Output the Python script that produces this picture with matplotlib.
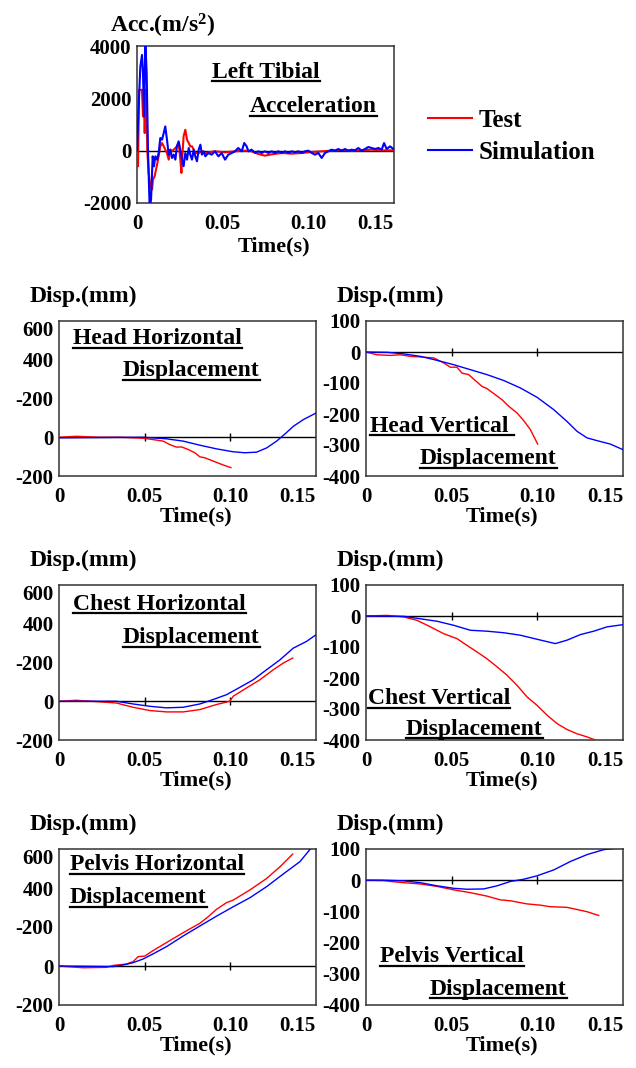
import matplotlib
matplotlib.use("Agg")
import matplotlib.pyplot as plt
from matplotlib.lines import Line2D

plt.rcParams['font.family'] = ['Liberation Serif', 'DejaVu Serif']
plt.rcParams['font.weight'] = 'bold'
plt.rcParams['mathtext.fontset'] = 'custom'
plt.rcParams['mathtext.rm'] = 'Liberation Serif:bold'
plt.rcParams['mathtext.bf'] = 'Liberation Serif:bold'
plt.rcParams['mathtext.it'] = 'Liberation Serif:bold'

# ---------------- data ----------------
# Left tibial acceleration (m/s^2)
acc_test_t = [0, 0.0006, 0.0012, 0.0029, 0.0035, 0.0039, 0.0045, 0.0051, 0.0056, 0.0060,
              0.0068, 0.0078, 0.0088, 0.0093, 0.0103, 0.0111, 0.0119, 0.0126, 0.0136, 0.0146,
              0.0156, 0.0165, 0.0175, 0.0185, 0.0195, 0.0204, 0.0214, 0.0224, 0.0233, 0.0243,
              0.0253, 0.0259, 0.0267, 0.0272, 0.0282, 0.0292, 0.0302, 0.0311, 0.0321, 0.0331,
              0.0340, 0.0360, 0.0379, 0.0399, 0.0455, 0.0514, 0.0572, 0.0631, 0.0669, 0.0708,
              0.0747, 0.0786, 0.0845, 0.0903, 0.0961, 0.1020, 0.1078, 0.1136, 0.1195, 0.1253,
              0.1311, 0.1370, 0.1428, 0.1496]
acc_test_v = [0, -597, 2324, 2324, 1308, 2324, 673, 2324, 2324, 0,
              -851, -1359, -1486, -1105, -978, -724, -470, -216, 165, 292,
              165, 38, -89, -343, 38, -25, 38, 102, 165, 292,
              -343, -851, 38, 546, 800, 419, 292, 165, 165, 38,
              -89, -89, -25, -89, -25, -64, -25, 0, -25, -127,
              -190, -140, -89, -114, -89, -51, -25, 0, 13, 0,
              13, 38, 13, 13]
acc_sim_t = [0, 0.00097, 0.00195, 0.00292, 0.0035, 0.0041, 0.00486, 0.00564, 0.00642, 0.0074,
             0.0082, 0.00915, 0.0099, 0.0107, 0.0117, 0.01265, 0.0136, 0.0146, 0.0156, 0.0165,
             0.0175, 0.0185, 0.0195, 0.0204, 0.0214, 0.0224, 0.0233, 0.0243, 0.0253, 0.0263,
             0.0272, 0.0282, 0.0292, 0.0302, 0.0311, 0.0321, 0.0331, 0.0340, 0.0350, 0.0360,
             0.0370, 0.0379, 0.0389, 0.0399, 0.0416, 0.0436, 0.0455, 0.0475, 0.0494, 0.0514,
             0.0533, 0.0553, 0.0572, 0.0591, 0.0611, 0.0626, 0.0640, 0.0650, 0.0669, 0.0689,
             0.0708, 0.0728, 0.0747, 0.0767, 0.0786, 0.0806, 0.0825, 0.0845, 0.0864, 0.0883,
             0.0903, 0.0922, 0.0942, 0.0961, 0.0981, 0.1000, 0.1020, 0.1039, 0.1058, 0.1078,
             0.1097, 0.1117, 0.1136, 0.1156, 0.1175, 0.1195, 0.1214, 0.1233, 0.1253, 0.1272,
             0.1292, 0.1311, 0.1331, 0.1350, 0.1370, 0.1389, 0.1409, 0.1428, 0.1442, 0.1457,
             0.1477, 0.1496]
acc_sim_v = [0, 1690, 3213, 3658, 2959, 1308, 4200, 2959, 0, -2200,
             -1867, -216, -597, -216, -343, -89, 483, 419, 673, 927,
             419, -152, 38, -279, -152, -343, 165, 356, 38, -343,
             -597, -89, -343, 101, -152, -343, 38, -216, -406, 38,
             229, -152, -25, -216, -89, -152, -25, -216, -89, -343,
             -152, -89, -25, 102, -25, 292, 165, -25, 38, -89,
             -25, -89, -25, -89, -25, -89, -25, -89, -25, -89,
             -25, -64, -25, -89, -25, 0, -89, -152, -89, -279,
             -89, -25, 38, 0, 64, 0, 64, 0, 38, 13,
             102, 0, 64, 140, 102, 64, 102, 38, 292, 64,
             165, 64]

# Head horizontal displacement (mm)
hh_test_t = [0, 0.0101, 0.0238, 0.0355, 0.049, 0.0549, 0.0608, 0.0647, 0.0686, 0.0715,
             0.0754, 0.0793, 0.0822, 0.0851, 0.090, 0.0949, 0.1003]
hh_test_v = [0, 5, 0, 0, -5, -12, -20, -38, -51, -50,
             -63, -80, -101, -106, -123, -140, -157]
hh_sim_t = [0, 0.049, 0.0627, 0.0725, 0.0822, 0.092, 0.1017, 0.1085, 0.1153, 0.1212,
            0.127, 0.1319, 0.1367, 0.1426, 0.150]
hh_sim_v = [-3, 0, -8, -20, -41, -60, -75, -80, -77, -55,
            -20, 17, 56, 91, 125]

# Head vertical displacement (mm)
hv_test_t = [0, 0.0064, 0.0142, 0.020, 0.0259, 0.0317, 0.0395, 0.0453, 0.0492, 0.0531,
             0.056, 0.0599, 0.0638, 0.0677, 0.0706, 0.0755, 0.0794, 0.0833, 0.0882, 0.092,
             0.0959, 0.1002]
hv_test_v = [0, -9, -11, -9, -14, -16, -19, -35, -49, -49,
             -68, -73, -92, -111, -118, -138, -154, -175, -197, -221,
             -250, -297]
hv_sim_t = [0, 0.0123, 0.022, 0.0317, 0.0415, 0.0512, 0.0609, 0.0706, 0.0804, 0.0901,
            0.0998, 0.1096, 0.1173, 0.1232, 0.129, 0.1349, 0.1426, 0.150]
hv_sim_v = [0, -1, -6, -14, -27, -41, -57, -73, -92, -116,
            -146, -186, -224, -256, -277, -286, -297, -315]

# Chest horizontal displacement (mm)
ch_test_t = [0, 0.0101, 0.0238, 0.0335, 0.0432, 0.053, 0.0627, 0.0725, 0.0822, 0.0919,
             0.0997, 0.1017, 0.1095, 0.1173, 0.1251, 0.1309, 0.1364]
ch_test_v = [0, 5, -3, -9, -31, -48, -55, -55, -43, -17,
             0, 26, 69, 111, 163, 197, 223]
ch_sim_t = [0, 0.0335, 0.0432, 0.053, 0.0627, 0.0725, 0.0822, 0.090, 0.0978, 0.1056,
            0.1134, 0.1212, 0.129, 0.1367, 0.1445, 0.150]
ch_sim_v = [0, 0, -14, -26, -34, -31, -14, 9, 34, 72,
            111, 163, 214, 274, 309, 343]

# Chest vertical displacement (mm)
cv_test_t = [0, 0.0123, 0.022, 0.0298, 0.0376, 0.0453, 0.0531, 0.059, 0.0648, 0.0706,
             0.0765, 0.0823, 0.0882, 0.094, 0.0998, 0.1057, 0.1115, 0.1173, 0.1232, 0.129,
             0.1358]
cv_test_v = [0, 2, -3, -14, -35, -57, -73, -95, -116, -138,
             -164, -191, -224, -261, -288, -320, -347, -366, -380, -390,
             -404]
cv_sim_t = [0, 0.022, 0.0317, 0.0415, 0.0512, 0.0609, 0.0706, 0.0804, 0.0901, 0.0998,
            0.1105, 0.1173, 0.1251, 0.1329, 0.1407, 0.150]
cv_sim_v = [0, -1, -9, -17, -30, -46, -49, -54, -62, -75,
            -89, -78, -60, -49, -35, -28]

# Pelvis horizontal displacement (mm)
ph_test_t = [0, 0.014, 0.0277, 0.0316, 0.0393, 0.0432, 0.0462, 0.0501, 0.0549, 0.0627,
             0.0725, 0.0822, 0.0871, 0.092, 0.0978, 0.1017, 0.1114, 0.1212, 0.129, 0.1364]
ph_test_v = [0, -9, -7, 3, 10, 22, 48, 51, 79, 120,
             171, 219, 253, 291, 325, 338, 390, 449, 509, 574]
ph_sim_t = [0, 0.0316, 0.0374, 0.0432, 0.0491, 0.0549, 0.0627, 0.0725, 0.0822, 0.092,
            0.1017, 0.1114, 0.1212, 0.1309, 0.1406, 0.1465, 0.150]
ph_sim_v = [0, -3, 5, 17, 36, 62, 99, 154, 205, 256,
            304, 350, 407, 472, 535, 598, 640]

# Pelvis vertical displacement (mm)
pv_test_t = [0, 0.0103, 0.0142, 0.022, 0.0317, 0.0415, 0.0512, 0.0609, 0.0706, 0.0784,
             0.0843, 0.094, 0.1018, 0.1076, 0.1173, 0.1232, 0.129, 0.1358]
pv_test_v = [0, -1, -4, -8, -12, -20, -31, -40, -51, -63,
             -66, -76, -80, -85, -87, -94, -101, -113]
pv_sim_t = [0, 0.0103, 0.022, 0.0317, 0.0415, 0.0512, 0.059, 0.0687, 0.0765, 0.0843,
            0.092, 0.0998, 0.1096, 0.1193, 0.129, 0.1388, 0.1436, 0.150]
pv_sim_v = [0, 0, -2, -8, -18, -26, -29, -28, -18, -4,
            3, 14, 33, 60, 82, 98, 101, 104]

x_ticks = [0, 0.05, 0.10, 0.15]
x_ticklabels = ['0', '0.05', '0.10', '0.15']
acc_yticks = [-2000, 0, 2000, 4000]
acc_yticklabels = ['-2000', '0', '2000', '4000']
hor_yticks = [-200, 0, 200, 400, 600]
hor_yticklabels = ['-200', '0', '-200', '400', '600']
ver_yticks = [-400, -300, -200, -100, 0, 100]
ver_yticklabels = ['-400', '-300', '-200', '-100', '0', '100']

# ---------------- figure ----------------
W, H = 636, 1068
fig = plt.figure(figsize=(W / 100, H / 100), dpi=100)
fig.patch.set_facecolor('white')

RED = '#ff0000'
BLUE = '#0000ff'
TICK_FS = 15
LAB_FS = 17
TIME_FS = 16
TITLE_FS = 17


def fx(px):
    return px / W


def fy(py):
    return 1 - py / H


def make_axes(l, r, t, b, ylim, yticks, yticklabels, xlabel_dy=45, top_label_top=False):
    ax = fig.add_axes([fx(l), fy(b), (r - l) / W, (b - t) / H])
    ax.set_xlim(0, 0.15)
    ax.set_ylim(*ylim)
    ax.set_xticks(x_ticks)
    ax.set_xticklabels(x_ticklabels, fontsize=TICK_FS, fontweight='bold')
    ax.set_yticks(yticks)
    ax.set_yticklabels(yticklabels, fontsize=TICK_FS, fontweight='bold')
    ax.tick_params(axis='x', length=0, pad=8)
    ax.tick_params(axis='y', length=0, pad=4)
    ax.get_xticklabels()[-1].set_ha('right')
    if top_label_top:
        ax.get_yticklabels()[-1].set_va('top')
    for s in ax.spines.values():
        s.set_color('#333333')
        s.set_linewidth(1.1)
    ax.axhline(0, color='black', lw=1.0, zorder=1)
    fig.text(fx((l + r) / 2 + 8), fy(b + xlabel_dy), 'Time(s)', ha='center', va='baseline',
             fontsize=TIME_FS, fontweight='bold')
    return ax


def tick_marks(ax):
    ax.plot([0.05, 0.10], [0, 0], ls='none', marker='|', ms=6, mew=1.0, color='black', zorder=1)


titles = []


def title(px, py, s):
    t = fig.text(fx(px), fy(py), s, ha='left', va='baseline', fontsize=TITLE_FS, fontweight='bold')
    titles.append(t)


# --- top acceleration panel ---
ax0 = make_axes(137, 394, 46, 203, (-2000, 4000), acc_yticks, acc_yticklabels, xlabel_dy=48)
ax0.plot(acc_test_t, acc_test_v, color=RED, lw=1.5, zorder=3)
ax0.plot(acc_sim_t, acc_sim_v, color=BLUE, lw=1.5, zorder=4)
fig.text(fx(110), fy(33), r'Acc.(m/s$^{\mathbf{2}}$)', ha='left', va='baseline',
         fontsize=LAB_FS, fontweight='bold')
title(212, 77.5, 'Left Tibial')
title(250, 112.5, 'Acceleration')

# legend
fig.add_artist(Line2D([fx(428), fx(472)], [fy(118), fy(118)], color=RED, lw=1.5))
fig.add_artist(Line2D([fx(428), fx(472)], [fy(150), fy(150)], color=BLUE, lw=1.5))
fig.text(fx(479), fy(127), 'Test', ha='left', va='baseline', fontsize=18, fontweight='bold')
fig.text(fx(479), fy(159), 'Simulation', ha='left', va='baseline', fontsize=18, fontweight='bold')

rows = [(321, 476), (585, 740), (849, 1005)]
left_x = (59, 316)
right_x = (366, 623)

panels = [
    (left_x, rows[0], 'h', hh_test_t, hh_test_v, hh_sim_t, hh_sim_v),
    (right_x, rows[0], 'v', hv_test_t, hv_test_v, hv_sim_t, hv_sim_v),
    (left_x, rows[1], 'h', ch_test_t, ch_test_v, ch_sim_t, ch_sim_v),
    (right_x, rows[1], 'v', cv_test_t, cv_test_v, cv_sim_t, cv_sim_v),
    (left_x, rows[2], 'h', ph_test_t, ph_test_v, ph_sim_t, ph_sim_v),
    (right_x, rows[2], 'v', pv_test_t, pv_test_v, pv_sim_t, pv_sim_v),
]

for (xl, xr), (yt, yb), kind, tt, tv, st, sv in panels:
    if kind == 'h':
        ax = make_axes(xl, xr, yt, yb, (-200, 600), hor_yticks, hor_yticklabels,
                       top_label_top=True)
    else:
        ax = make_axes(xl, xr, yt, yb, (-400, 100), ver_yticks, ver_yticklabels)
    tick_marks(ax)
    ax.plot(tt, tv, color=RED, lw=1.0, zorder=3)
    ax.plot(st, sv, color=BLUE, lw=1.0, zorder=4)
    fig.text(fx(xl - 29), fy(yt - 19), 'Disp.(mm)', ha='left', va='baseline',
             fontsize=LAB_FS, fontweight='bold')

title(73, 344.5, 'Head Horizontal')
title(123, 376.5, 'Displacement')
title(370, 431.5, 'Head Vertical ')
title(420, 464.5, 'Displacement')
title(73, 609.5, 'Chest Horizontal')
title(123, 643.5, 'Displacement')
title(368, 704.5, 'Chest Vertical')
title(406, 734.5, 'Displacement')
title(70, 870.5, 'Pelvis Horizontal')
title(70, 903.5, 'Displacement')
title(380, 962.5, 'Pelvis Vertical')
title(430, 994.5, 'Displacement')

# underlines for titles
fig.canvas.draw()
renderer = fig.canvas.get_renderer()
for t in titles:
    bb = t.get_window_extent(renderer)
    x0, y0 = t.get_position()
    base_px = (1 - y0) * H
    uy = fy(base_px + 3.5)
    fig.add_artist(Line2D([bb.x0 / W, bb.x1 / W], [uy, uy], color='black', lw=1.6))

fig.savefig('out.png', dpi=100, facecolor='white')
